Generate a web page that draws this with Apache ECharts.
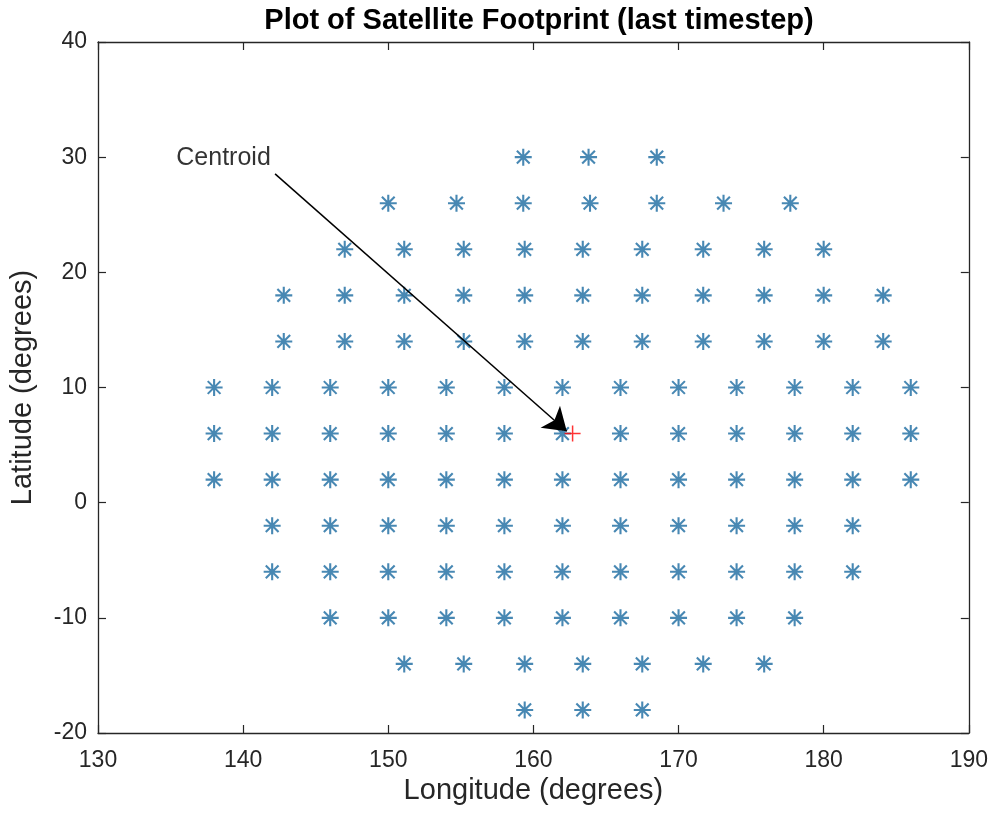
<!DOCTYPE html>
<html>
<head>
<meta charset="utf-8">
<script src="https://cdn.jsdelivr.net/npm/echarts@6/dist/echarts.min.js"></script>
<style>
  html, body { margin: 0; padding: 0; background: #fff; }
  #chart { width: 991px; height: 820px; }
</style>
</head>
<body>
<div id="chart"></div>
<script>
// footprint grid points, one longitude list per latitude row
const rowLats = [30, 26, 22, 18, 14, 10, 6, 2, -2, -6, -10, -14, -18];
const lonsAt30 = [159.3, 163.8, 168.5];
const lonsAt26 = [150.0, 154.7, 159.3, 163.9, 168.5, 173.1, 177.7];
const lonsAt22 = [147.0, 151.1, 155.2, 159.4, 163.4, 167.5, 171.7, 175.9, 180.0];
const lonsAt18 = [142.8, 147.0, 151.1, 155.2, 159.4, 163.4, 167.5, 171.7, 175.9, 180.0, 184.1];
const lonsAt14 = [142.8, 147.0, 151.1, 155.2, 159.4, 163.4, 167.5, 171.7, 175.9, 180.0, 184.1];
const lonsAt10 = [138, 142, 146, 150, 154, 158, 162, 166, 170, 174, 178, 182, 186];
const lonsAt6 = [138, 142, 146, 150, 154, 158, 162, 166, 170, 174, 178, 182, 186];
const lonsAt2 = [138, 142, 146, 150, 154, 158, 162, 166, 170, 174, 178, 182, 186];
const lonsAtM2 = [142, 146, 150, 154, 158, 162, 166, 170, 174, 178, 182];
const lonsAtM6 = [142, 146, 150, 154, 158, 162, 166, 170, 174, 178, 182];
const lonsAtM10 = [146, 150, 154, 158, 162, 166, 170, 174, 178];
const lonsAtM14 = [151.1, 155.2, 159.4, 163.4, 167.5, 171.7, 175.9];
const lonsAtM18 = [159.4, 163.4, 167.5];

const centroid = [162.7, 6.0];
const labelPos = [138.65, 29.95];
const arrowFrom = [142.2, 28.55];
const arrowTo = [162.3, 6.2];

const xTicks = { min: 130, max: 190, interval: 10 };
const yTicks = { min: -20, max: 40, interval: 10 };

const lonRows = [lonsAt30, lonsAt26, lonsAt22, lonsAt18, lonsAt14, lonsAt10, lonsAt6,
                 lonsAt2, lonsAtM2, lonsAtM6, lonsAtM10, lonsAtM14, lonsAtM18];
const points = [];
rowLats.forEach((lat, i) => lonRows[i].forEach(lon => points.push([lon, lat])));

const FONT = 'Liberation Sans, Arial, sans-serif';
const AX = '#262626';
const BLUE = '#1a6aa0';
const STAR = 'path://M0,-10L0,10M-10,0L10,0M-7.5,-7.5L7.5,7.5M-7.5,7.5L7.5,-7.5';
const PLUS = 'path://M0,-10L0,10M-10,0L10,0';

const chart = echarts.init(document.getElementById('chart'));

function axisBase(extra) {
  return Object.assign({
    type: 'value',
    axisLine: { show: true, onZero: false, lineStyle: { color: AX, width: 1.3 } },
    axisTick: { show: true, inside: true, length: 8, lineStyle: { color: AX, width: 1.2 } },
    splitLine: { show: false }
  }, extra);
}

chart.setOption({
  animation: false,
  backgroundColor: '#fff',
  title: {
    text: 'Plot of Satellite Footprint (last timestep)',
    left: 534, top: 1, textAlign: 'center',
    textStyle: { fontFamily: FONT, fontSize: 29, fontWeight: 'bold', color: '#000' }
  },
  grid: { left: 98, right: 22, top: 42, bottom: 87, containLabel: false },
  xAxis: [
    axisBase(Object.assign({
      position: 'bottom',
      name: 'Longitude (degrees)', nameLocation: 'middle', nameGap: 38,
      nameTextStyle: { fontFamily: FONT, fontSize: 29, color: AX },
      axisLabel: { fontFamily: FONT, fontSize: 23, color: AX, margin: 16 }
    }, xTicks)),
    axisBase(Object.assign({ position: 'top', axisLabel: { show: false } }, xTicks))
  ],
  yAxis: [
    axisBase(Object.assign({
      position: 'left',
      name: 'Latitude (degrees)', nameLocation: 'middle', nameGap: 61,
      nameTextStyle: { fontFamily: FONT, fontSize: 29, color: AX },
      axisLabel: { fontFamily: FONT, fontSize: 23, color: AX, margin: 11 }
    }, yTicks)),
    axisBase(Object.assign({ position: 'right', axisLabel: { show: false } }, yTicks))
  ],
  series: [
    {
      type: 'scatter',
      data: points,
      symbol: STAR,
      symbolSize: 17,
      itemStyle: { color: BLUE, borderColor: BLUE, borderWidth: 2.1 },
      silent: true
    },
    {
      type: 'scatter',
      data: [centroid],
      symbol: PLUS,
      symbolSize: 16,
      z: 3,
      itemStyle: { color: '#ff0000', borderColor: '#ff0000', borderWidth: 1.5 },
      silent: true
    },
    {
      type: 'scatter',
      data: [labelPos],
      symbolSize: 0,
      z: 4,
      label: {
        show: true, position: 'inside', formatter: 'Centroid',
        fontFamily: FONT, fontSize: 25, color: '#000'
      },
      markLine: {
        silent: true,
        symbol: ['none', 'arrow'],
        symbolSize: 22,
        label: { show: false },
        lineStyle: { color: '#000', width: 1.5, type: 'solid' },
        data: [[{ coord: arrowFrom }, { coord: arrowTo }]]
      },
      silent: true
    }
  ]
});
</script>
</body>
</html>
